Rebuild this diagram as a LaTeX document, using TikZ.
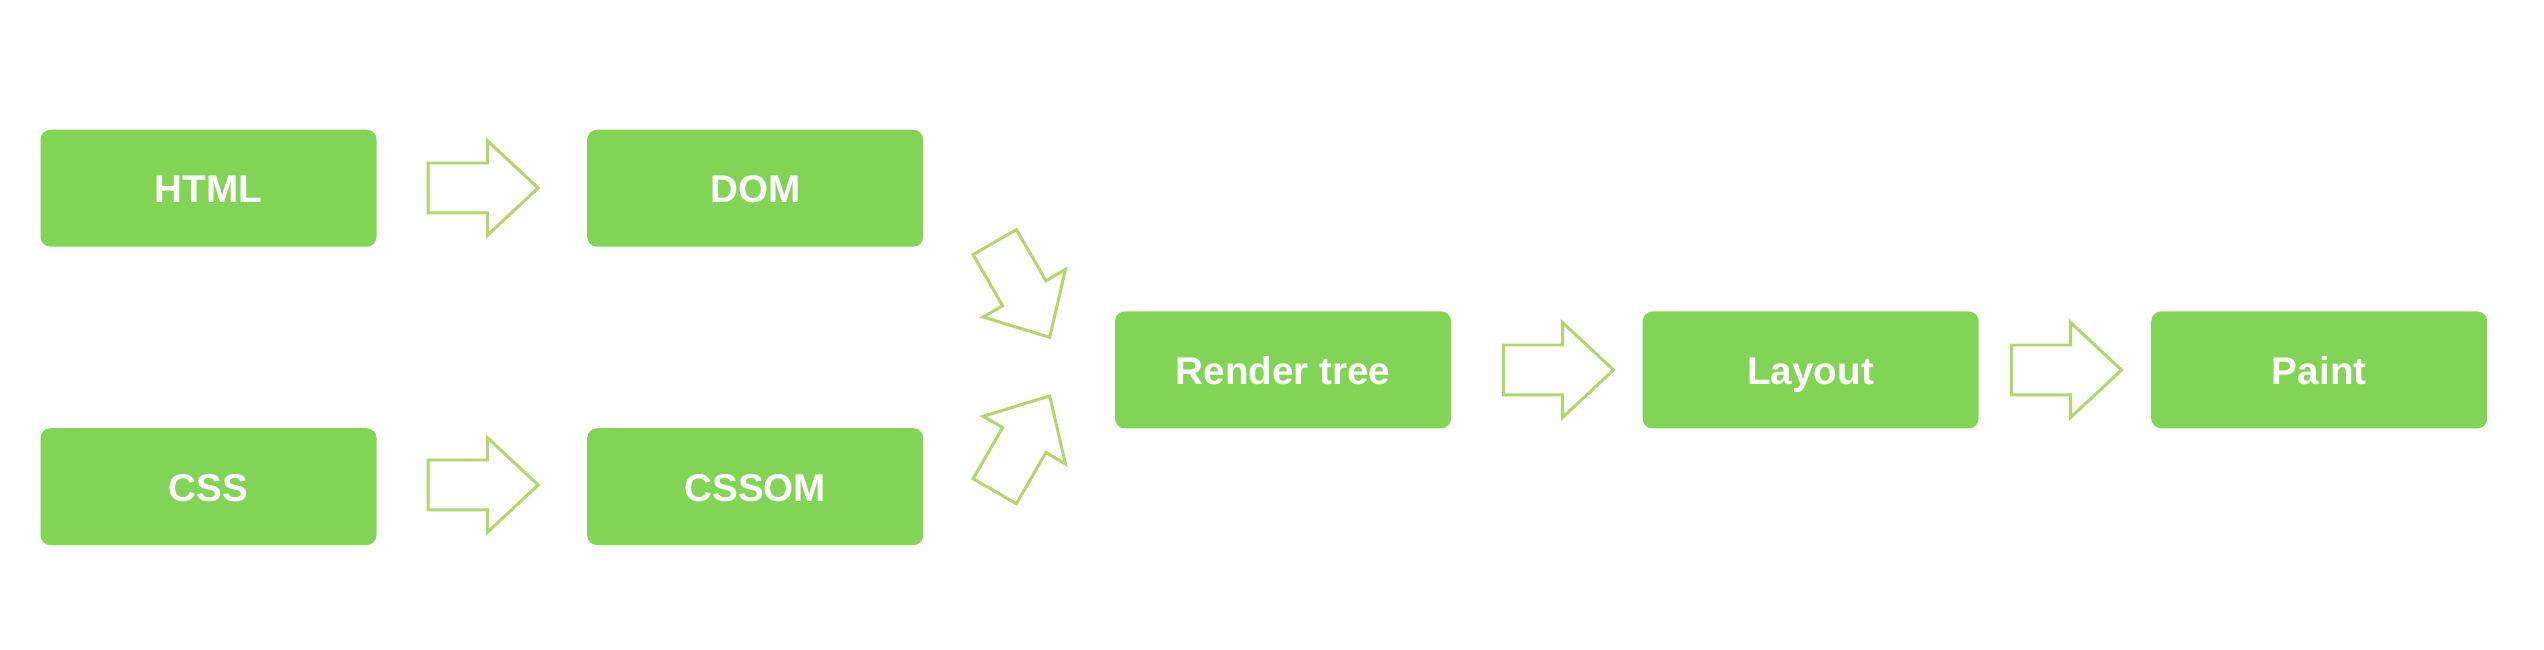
\documentclass[tikz,border=0pt]{standalone}
\usepackage{fontspec}
\setmainfont{Liberation Sans}
\usepackage{tikz}
\usetikzlibrary{shapes.arrows}
\definecolor{boxgreen}{RGB}{130,212,86}
\definecolor{arrowgreen}{RGB}{178,214,106}

\begin{document}
\begin{tikzpicture}

  %Styles for picture
  \tikzset
  {
  stage/.style={rectangle, rounded corners=0.1cm, fill=boxgreen, text=white, inner sep=0pt, minimum width=3.36cm, minimum height=1.17cm, text height=0.287cm, text depth=0pt, font=\fontsize{11}{13}\selectfont\bfseries},
  flow/.style={single arrow, draw=arrowgreen, line width=0.85pt, fill=white, inner xsep=0pt, inner ysep=0.235cm, minimum height=1.1cm, minimum width=0.92cm, single arrow head extend=0.225cm, single arrow tip angle=86, anchor=tail},
  }

  \useasboundingbox (0,0) rectangle (25.44,6.5);

  %Nodes
  \node[stage] (html) at (2.085,4.618) {HTML};
  \node[stage] (dom) at (7.552,4.618) {DOM};
  \node[stage] (css) at (2.085,1.633) {CSS};
  \node[stage] (cssom) at (7.552,1.633) {CSSOM};
  \node[stage] (render) at (12.83,2.801) {Render tree};
  \node[stage] (layout) at (18.106,2.801) {Layout};
  \node[stage] (paint) at (23.192,2.801) {Paint};

  %Arrows
  \node[flow] (a1) at (4.267,4.62) {};
  \node[flow] (a2) at (4.267,1.65) {};
  \node[flow, rotate=-60] (a3) at (9.94,4.092) {};
  \node[flow, rotate=60] (a4) at (9.94,1.575) {};
  \node[flow] (a5) at (15.02,2.80) {};
  \node[flow] (a6) at (20.10,2.80) {};
\end{tikzpicture}
\end{document}
